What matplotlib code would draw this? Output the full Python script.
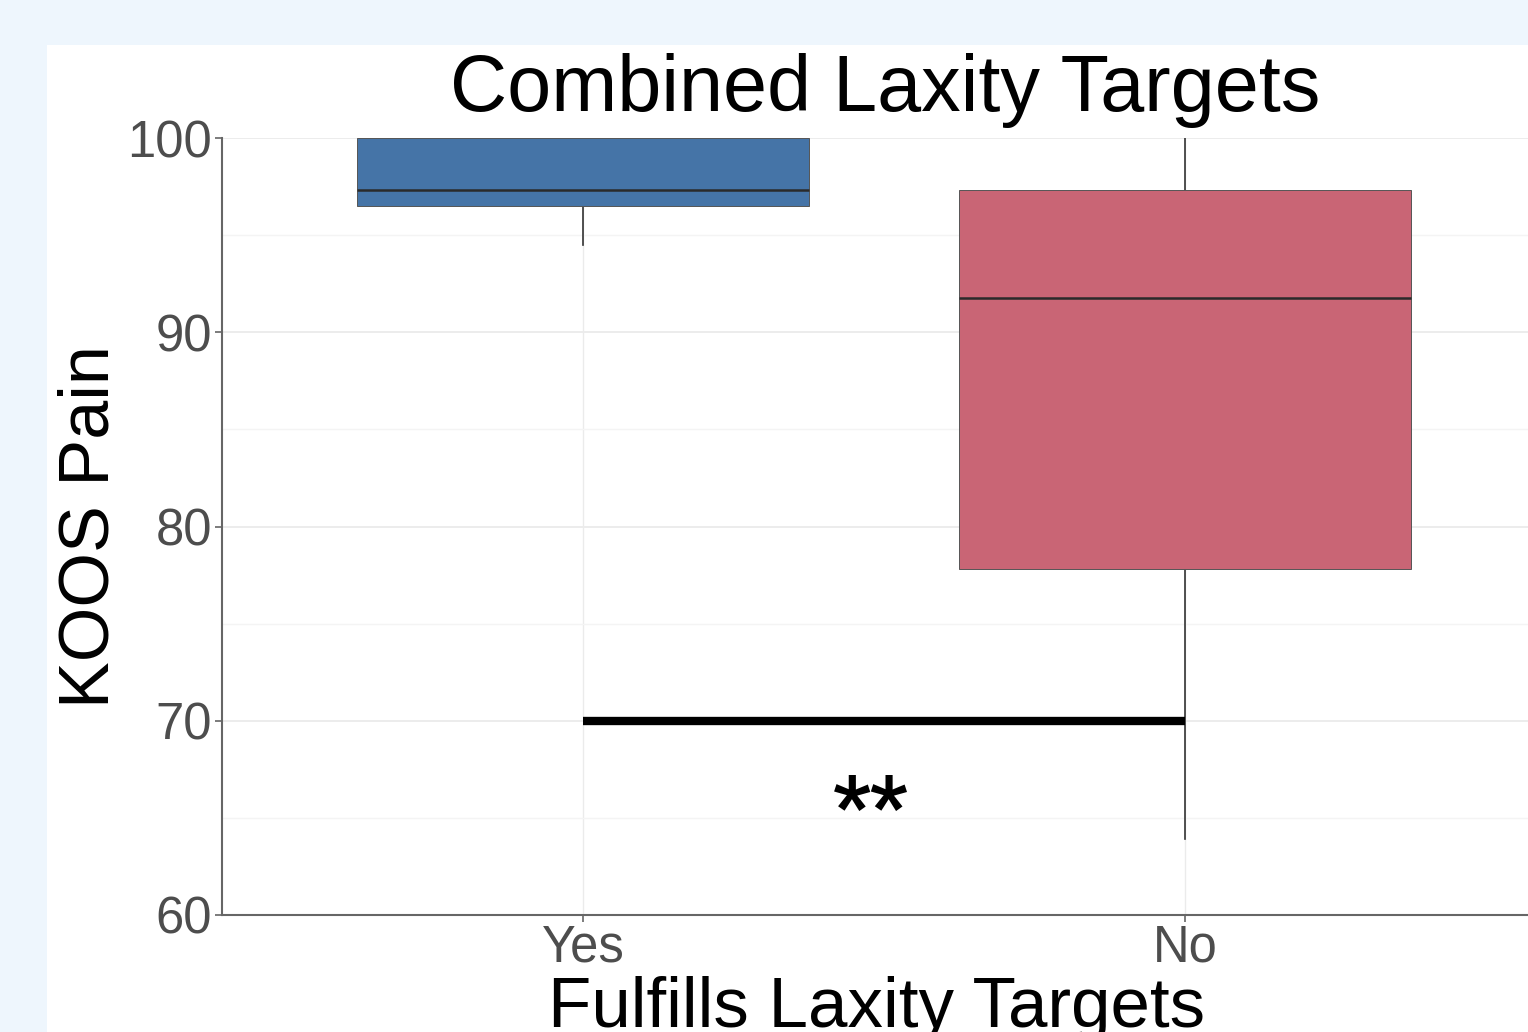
import matplotlib
matplotlib.use("Agg")
import matplotlib.pyplot as plt
from matplotlib.patches import Rectangle
from matplotlib.ticker import MultipleLocator

plt.rcParams['font.family'] = ['Liberation Sans', 'DejaVu Sans']

# Box-plot summary statistics of KOOS Pain by group
groups = ["Yes", "No"]
whisker_low = [94.5, 63.9]
q1 = [96.5, 77.8]
median = [97.3, 91.75]
q3 = [100.0, 97.3]
whisker_high = [100.0, 100.0]
box_colors = ["#4574a7", "#c96575"]

# Significance annotation
sig_y = 70
sig_label = "**"

W, H = 1528, 1032
fig = plt.figure(figsize=(W / 100, H / 100), dpi=100)
fig.patch.set_facecolor("#eef6fd")
fig.patches.append(Rectangle((47 / W, 0), 1 - 47 / W, 1 - 45 / H,
                             transform=fig.transFigure, facecolor="white",
                             edgecolor="none", zorder=-10))

ax_left, ax_bottom, ax_top = 222, 915, 138
xlim = (0.4, 2.6)
px_per_cat = 602
ax_w = (xlim[1] - xlim[0]) * px_per_cat
ax = fig.add_axes([ax_left / W, (H - ax_bottom) / H, ax_w / W, (ax_bottom - ax_top) / H])
ax.set_facecolor("none")

positions = list(range(1, len(groups) + 1))
stats = []
for i, g in enumerate(groups):
    stats.append(dict(label=g, whislo=whisker_low[i], q1=q1[i], med=median[i],
                      q3=q3[i], whishi=whisker_high[i], fliers=[]))

bp = ax.bxp(stats, positions=positions, widths=0.75, patch_artist=True,
            showcaps=False, showfliers=False,
            boxprops=dict(edgecolor="#555555", linewidth=0.7),
            medianprops=dict(color="#2a2a2a", linewidth=1.8),
            whiskerprops=dict(color="#333333", linewidth=1.2))
for patch, c in zip(bp["boxes"], box_colors):
    patch.set_facecolor(c)
    patch.set_zorder(3)
for ln in bp["medians"]:
    ln.set_zorder(4)
for ln in bp["whiskers"]:
    ln.set_zorder(2)

ax.set_xlim(*xlim)
ax.set_ylim(60, 100)
ax.set_xticks(positions)
ax.set_xticklabels(groups)
ax.yaxis.set_major_locator(MultipleLocator(10))
ax.yaxis.set_minor_locator(MultipleLocator(5))

ax.grid(which="major", axis="y", color="#ebebeb", linewidth=1.3, zorder=0)
ax.grid(which="minor", axis="y", color="#f4f4f4", linewidth=1.0, zorder=0)
ax.grid(which="major", axis="x", color="#ebebeb", linewidth=1.0, zorder=0)
ax.set_axisbelow(True)

for side in ("top", "right"):
    ax.spines[side].set_visible(False)
for side in ("left", "bottom"):
    ax.spines[side].set_color("#666666")
    ax.spines[side].set_linewidth(1.5)

ax.tick_params(axis="both", which="major", length=5, width=1.2, color="#666666",
               labelcolor="#4d4d4d", labelsize=36.5, pad=2)
ax.tick_params(axis="y", which="minor", length=0)
ax.tick_params(axis="x", pad=1)

# Significance bracket between groups
ax.plot([positions[0], positions[1]], [sig_y, sig_y], color="black", linewidth=6,
        solid_capstyle="butt", zorder=5)
ax.text(1.478, sig_y - 5.83, sig_label, ha="center", va="baseline", fontsize=60,
        fontweight="bold", family=["Roboto", "DejaVu Sans"], color="black", zorder=5)

ax.set_ylabel("KOOS Pain", fontsize=50.5, color="black", labelpad=3)
ax.set_xlabel("Fulfills Laxity Targets", fontsize=51, color="black", labelpad=4)
ax.xaxis.set_label_coords((876 - ax_left) / ax_w, -0.078)
ax.xaxis.label.set_va("top")

fig.text(885 / W, 1 - 91 / H, "Combined Laxity Targets", ha="center", va="center",
         fontsize=57, color="black")

fig.savefig("out.png", dpi=100)
